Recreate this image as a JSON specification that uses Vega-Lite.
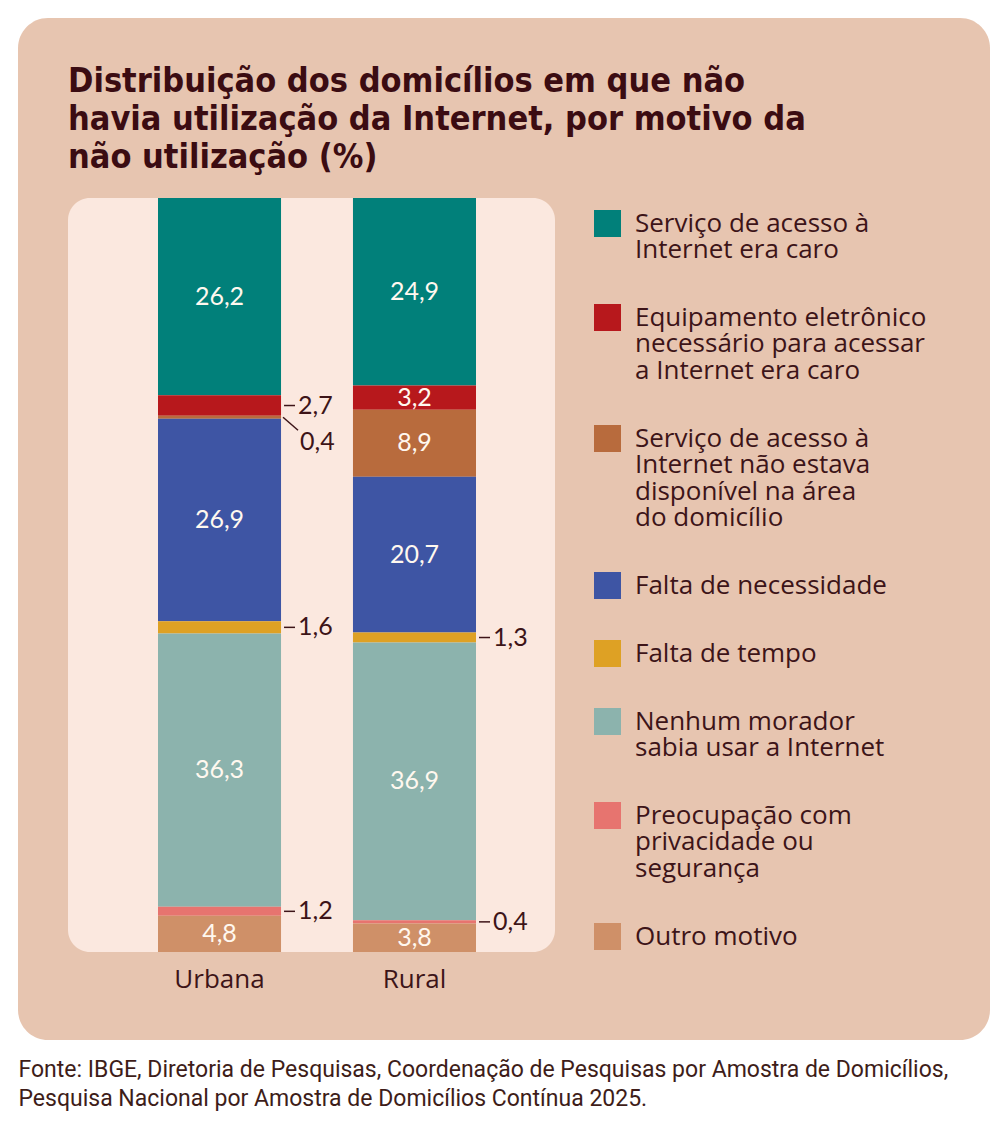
{
  "$schema": "https://vega.github.io/schema/vega-lite/v6.json",
  "width": 972,
  "height": 1022,
  "autosize": {"type": "none"},
  "padding": {"left": 18, "top": 18, "right": 10, "bottom": 81},
  "background": "#ffffff",
  "view": {"fill": "#e7c5b0", "cornerRadius": 30, "stroke": null},
  "config": {"style": {"guide-label": {"lineHeight": 26.5}}},
  "title": {
    "text": ["Distribuição dos domicílios em que não", "havia utilização da Internet, por motivo da", "não utilização (%)"],
    "anchor": "start",
    "frame": "group",
    "font": "'DejaVu Sans Condensed', Roboto",
    "fontSize": 34,
    "fontWeight": "bold",
    "color": "#3b0c12",
    "lineHeight": 38,
    "dx": 50,
    "offset": -157
  },
  "data": {
    "values": [
      {"area": "Urbana", "motivo": "Serviço de acesso à Internet era caro", "valor": 26.2},
      {"area": "Urbana", "motivo": "Equipamento eletrônico necessário para acessar a Internet era caro", "valor": 2.7},
      {"area": "Urbana", "motivo": "Serviço de acesso à Internet não estava disponível na área do domicílio", "valor": 0.4},
      {"area": "Urbana", "motivo": "Falta de necessidade", "valor": 26.9},
      {"area": "Urbana", "motivo": "Falta de tempo", "valor": 1.6},
      {"area": "Urbana", "motivo": "Nenhum morador sabia usar a Internet", "valor": 36.3},
      {"area": "Urbana", "motivo": "Preocupação com privacidade ou segurança", "valor": 1.2},
      {"area": "Urbana", "motivo": "Outro motivo", "valor": 4.8},
      {"area": "Rural", "motivo": "Serviço de acesso à Internet era caro", "valor": 24.9},
      {"area": "Rural", "motivo": "Equipamento eletrônico necessário para acessar a Internet era caro", "valor": 3.2},
      {"area": "Rural", "motivo": "Serviço de acesso à Internet não estava disponível na área do domicílio", "valor": 8.9},
      {"area": "Rural", "motivo": "Falta de necessidade", "valor": 20.7},
      {"area": "Rural", "motivo": "Falta de tempo", "valor": 1.3},
      {"area": "Rural", "motivo": "Nenhum morador sabia usar a Internet", "valor": 36.9},
      {"area": "Rural", "motivo": "Preocupação com privacidade ou segurança", "valor": 0.4},
      {"area": "Rural", "motivo": "Outro motivo", "valor": 3.8}
    ]
  },
  "transform": [
    {"calculate": "indexof(['Serviço de acesso à Internet era caro','Equipamento eletrônico necessário para acessar a Internet era caro','Serviço de acesso à Internet não estava disponível na área do domicílio','Falta de necessidade','Falta de tempo','Nenhum morador sabia usar a Internet','Preocupação com privacidade ou segurança','Outro motivo'], datum.motivo)", "as": "ordem"},
    {"stack": "valor", "groupby": ["area"], "sort": [{"field": "ordem", "order": "descending"}], "as": ["v0", "v1"]},
    {"calculate": "(datum.v0 + datum.v1) / 2", "as": "meio"},
    {"calculate": "replace(format(datum.valor, '.1f'), '.', ',')", "as": "rotulo"}
  ],
  "layer": [
    {
      "transform": [{"filter": "datum.area == 'Urbana' && datum.ordem == 0"}],
      "mark": {"type": "rect", "fill": "#fbe8df", "cornerRadius": 22},
      "encoding": {
        "x": {"value": 50},
        "x2": {"value": 537},
        "y": {"value": 180},
        "y2": {"value": 934}
      }
    },
    {
      "mark": {"type": "bar"},
      "encoding": {
        "x": {
          "field": "area",
          "type": "nominal",
          "scale": {"domain": ["Urbana", "Rural"], "range": [140, 458], "paddingInner": 0.369, "paddingOuter": 0},
          "axis": {
            "orient": "bottom",
            "offset": -88,
            "domain": false,
            "ticks": false,
            "grid": false,
            "labelAngle": 0,
            "labelFont": "Open Sans",
            "labelFontSize": 26,
            "labelColor": "#3d1418",
            "labelPadding": 14,
            "title": ["Fonte: IBGE, Diretoria de Pesquisas, Coordenação de Pesquisas por Amostra de Domicílios,", "Pesquisa Nacional por Amostra de Domicílios Contínua 2025."],
            "titleFont": "Roboto",
            "titleFontSize": 23,
            "titleFontWeight": "normal",
            "titleColor": "#3e1d19",
            "titleAnchor": "start",
            "titleAlign": "left",
            "titleBaseline": "alphabetic",
            "titleX": 0,
            "titleY": 124,
            "titleLineHeight": 29
          }
        },
        "y": {"field": "v0", "type": "quantitative", "scale": {"domain": [0, 100.1], "range": [934, 180], "nice": false, "zero": false}, "axis": null},
        "y2": {"field": "v1"},
        "color": {
          "field": "motivo",
          "type": "nominal",
          "scale": {
            "domain": ["Serviço de acesso à Internet era caro", "Equipamento eletrônico necessário para acessar a Internet era caro", "Serviço de acesso à Internet não estava disponível na área do domicílio", "Falta de necessidade", "Falta de tempo", "Nenhum morador sabia usar a Internet", "Preocupação com privacidade ou segurança", "Outro motivo"],
            "range": ["#01807a", "#b7181c", "#b86b3d", "#3e55a4", "#dea124", "#8cb3ad", "#e7746f", "#cf9068"]
          },
          "legend": {
            "orient": "none",
            "legendX": 576,
            "legendY": 192,
            "title": null,
            "symbolType": "square",
            "symbolSize": 729,
            "symbolStrokeWidth": 0,
            "symbolOpacity": 1,
            "labelFont": "Open Sans",
            "labelFontSize": 26,
            "labelColor": "#3d1418",
            "labelLimit": 400,
            "labelOffset": 14,
            "rowPadding": 41,
            "labelExpr": "datum.label == 'Serviço de acesso à Internet era caro' ? ['Serviço de acesso à', 'Internet era caro'] : datum.label == 'Equipamento eletrônico necessário para acessar a Internet era caro' ? ['Equipamento eletrônico', 'necessário para acessar', 'a Internet era caro'] : datum.label == 'Serviço de acesso à Internet não estava disponível na área do domicílio' ? ['Serviço de acesso à', 'Internet não estava', 'disponível na área', 'do domicílio'] : datum.label == 'Nenhum morador sabia usar a Internet' ? ['Nenhum morador', 'sabia usar a Internet'] : datum.label == 'Preocupação com privacidade ou segurança' ? ['Preocupação com', 'privacidade ou', 'segurança'] : datum.label"
          }
        }
      }
    },
    {
      "transform": [{"filter": "datum.valor >= 3"}],
      "mark": {"type": "text", "font": "Lato", "fontSize": 25, "fill": "#fff8ef", "baseline": "middle", "align": "center"},
      "encoding": {
        "x": {"field": "area", "type": "nominal"},
        "y": {"field": "meio", "type": "quantitative", "axis": null},
        "text": {"field": "rotulo"}
      }
    },
    {
      "transform": [{"filter": "datum.valor < 3 && !(datum.area == 'Urbana' && datum.ordem == 2)"}],
      "mark": {"type": "text", "font": "Lato", "fontSize": 25, "fill": "#3d1418", "baseline": "middle", "align": "left", "dx": 17},
      "encoding": {
        "x": {"field": "area", "type": "nominal", "bandPosition": 1},
        "y": {"field": "meio", "type": "quantitative", "axis": null},
        "text": {"field": "rotulo"}
      }
    },
    {
      "transform": [{"filter": "datum.valor < 3 && !(datum.area == 'Urbana' && datum.ordem == 2)"}],
      "mark": {"type": "point", "shape": "M-1,0L1,0", "size": 121, "filled": false, "stroke": "#3d1418", "strokeWidth": 1.5, "opacity": 1, "xOffset": 8.5},
      "encoding": {
        "x": {"field": "area", "type": "nominal", "bandPosition": 1},
        "y": {"field": "meio", "type": "quantitative", "axis": null}
      }
    },
    {
      "transform": [{"filter": "datum.area == 'Urbana' && datum.ordem == 2"}],
      "mark": {"type": "text", "font": "Lato", "fontSize": 25, "fill": "#3d1418", "baseline": "middle", "align": "left", "dx": 19, "dy": 25},
      "encoding": {
        "x": {"field": "area", "type": "nominal", "bandPosition": 1},
        "y": {"field": "meio", "type": "quantitative", "axis": null},
        "text": {"field": "rotulo"}
      }
    },
    {
      "transform": [{"filter": "datum.area == 'Urbana' && datum.ordem == 2"}],
      "mark": {"type": "point", "shape": "M-1,-0.867L1,0.867", "size": 225, "filled": false, "stroke": "#3d1418", "strokeWidth": 1.5, "opacity": 1, "xOffset": 9.5, "yOffset": 6.5},
      "encoding": {
        "x": {"field": "area", "type": "nominal", "bandPosition": 1},
        "y": {"field": "meio", "type": "quantitative", "axis": null}
      }
    }
  ]
}
